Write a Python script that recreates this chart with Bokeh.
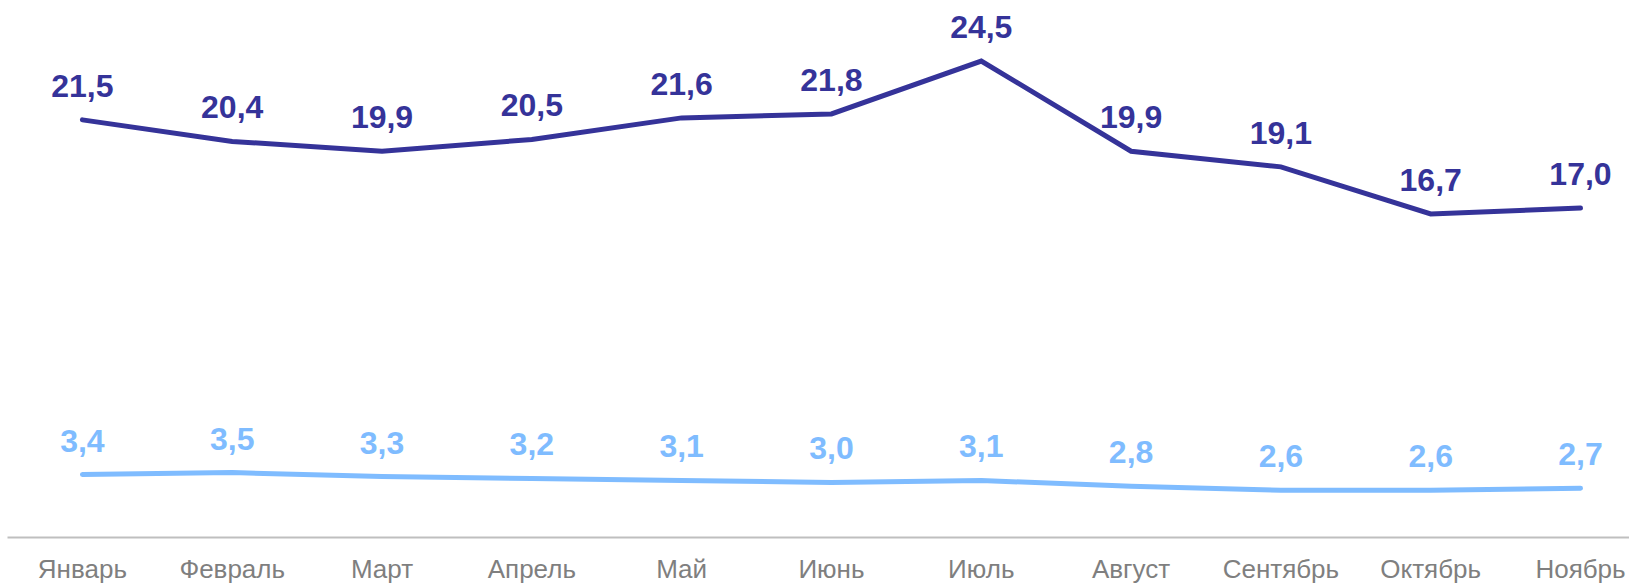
from bokeh.plotting import figure
from bokeh.models import ColumnDataSource, FixedTicker, Range1d
from bokeh.core.properties import value
from bokeh.embed import file_html
from bokeh.resources import INLINE

months = ["Январь", "Февраль", "Март", "Апрель", "Май", "Июнь", "Июль",
          "Август", "Сентябрь", "Октябрь", "Ноябрь"]
series_dark = [21.5, 20.4, 19.9, 20.5, 21.6, 21.8, 24.5, 19.9, 19.1, 16.7, 17.0]
series_light = [3.4, 3.5, 3.3, 3.2, 3.1, 3.0, 3.1, 2.8, 2.6, 2.6, 2.7]

DARK = "#353399"
LIGHT = "#7FBCFF"
FONT = "Liberation Sans"

xs = list(range(len(months)))

def fmt(v):
    return f"{v:.1f}".replace(".", ",")

src_dark = ColumnDataSource(dict(x=xs, y=series_dark, lbl=[fmt(v) for v in series_dark]))
src_light = ColumnDataSource(dict(x=xs, y=series_light, lbl=[fmt(v) for v in series_light]))

p = figure(width=1629, height=586, output_backend="svg", toolbar_location=None,
           x_range=Range1d(-0.5, 10.327), y_range=Range1d(0.189, 27.59),
           y_axis_location=None, min_border_left=7, min_border_right=0,
           min_border_top=0, min_border_bottom=49)
p.outline_line_color = None
p.grid.visible = False
p.background_fill_color = "white"

p.line("x", "y", source=src_dark, line_color=DARK, line_width=5,
       line_cap="round", line_join="miter")
p.line("x", "y", source=src_light, line_color=LIGHT, line_width=5,
       line_cap="round", line_join="round")

for src, col in ((src_dark, DARK), (src_light, LIGHT)):
    p.text("x", "y", text="lbl", source=src, text_color=col,
           text_font=value(FONT), text_font_style="bold", text_font_size="32px",
           text_align="center", text_baseline="alphabetic", y_offset=-34)

ax = p.xaxis[0]
ax.ticker = FixedTicker(ticks=xs)
ax.major_label_overrides = {i: m for i, m in enumerate(months)}
ax.axis_line_color = "#BFBFBF"
ax.axis_line_width = 2
ax.major_tick_line_color = None
ax.minor_tick_line_color = None
ax.major_tick_out = 0
ax.major_tick_in = 0
ax.major_label_standoff = 16
ax.major_label_text_font = FONT
ax.major_label_text_font_size = "26px"
ax.major_label_text_line_height = 1.0
ax.major_label_text_color = "#7F7F7F"

open("out.html", "w").write(file_html(p, INLINE))
